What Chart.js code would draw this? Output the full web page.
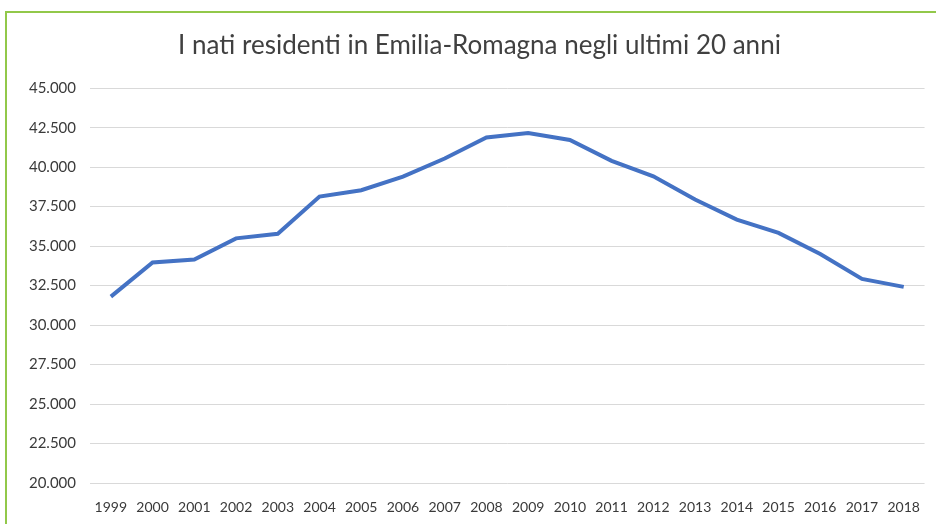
<!DOCTYPE html>
<html>
<head>
<meta charset="utf-8">
<script src="https://cdn.jsdelivr.net/npm/chart.js@4"></script>
<style>
  html, body { margin: 0; padding: 0; background: #fff; overflow: hidden; }
  #frame {
    position: absolute; left: 5px; top: 11px; width: 935px; height: 520px;
    border-left: 2px solid #92c84a; border-top: 2px solid #92c84a;
  }
  #wrap { position: absolute; left: 0; top: 0; width: 929px; height: 511px; }
</style>
</head>
<body>
<div id="frame"><div id="wrap"><canvas id="nati"></canvas></div></div>
<script>
// nati residenti, Emilia-Romagna
var anni = ['1999', '2000', '2001', '2002', '2003', '2004', '2005', '2006', '2007', '2008',
            '2009', '2010', '2011', '2012', '2013', '2014', '2015', '2016', '2017', '2018'];
var nati = [31800, 33960, 34150, 35490, 35780, 38140, 38540, 39400, 40550, 41880,
            42160, 41720, 40400, 39420, 37950, 36680, 35840, 34500, 32920, 32420];
var yMin = 20000, yMax = 45000, yStep = 2500;

function punti(v) {
  return String(v).replace(/\B(?=(\d{3})+(?!\d))/g, '.');
}

var ctx = document.getElementById('nati');
new Chart(ctx, {
  type: 'line',
  data: {
    labels: anni,
    datasets: [{
      label: 'Nati',
      data: nati,
      borderColor: '#4472c4',
      borderWidth: 4,
      pointRadius: 0,
      fill: false,
      tension: 0
    }]
  },
  options: {
    responsive: true,
    maintainAspectRatio: false,
    animation: false,
    layout: { padding: { left: 18, right: 2, top: 0, bottom: 0 } },
    plugins: {
      legend: { display: false },
      tooltip: { enabled: false },
      title: {
        display: true,
        text: 'I nati residenti in Emilia-Romagna negli ultimi 20 anni',
        color: '#404040',
        font: { family: 'Lato', size: 26, weight: 'normal' },
        padding: { top: 17, bottom: 27 }
      }
    },
    scales: {
      x: {
        offset: true,
        grid: { display: false, drawTicks: false },
        border: { display: false },
        ticks: {
          color: '#3a3a3a', font: { family: 'Lato', size: 14 },
          maxRotation: 0, autoSkip: false, padding: 16
        },
        afterFit: function (s) { s.height = 41; }
      },
      y: {
        min: yMin, max: yMax,
        grid: { color: '#d9d9d9', lineWidth: 1, drawTicks: false },
        border: { display: false },
        ticks: {
          stepSize: yStep, color: '#3a3a3a', font: { family: 'Lato', size: 15 },
          padding: 14,
          callback: function (v) { return punti(v); }
        },
        afterFit: function (s) { s.width = 65; }
      }
    }
  }
});
</script>
</body>
</html>
